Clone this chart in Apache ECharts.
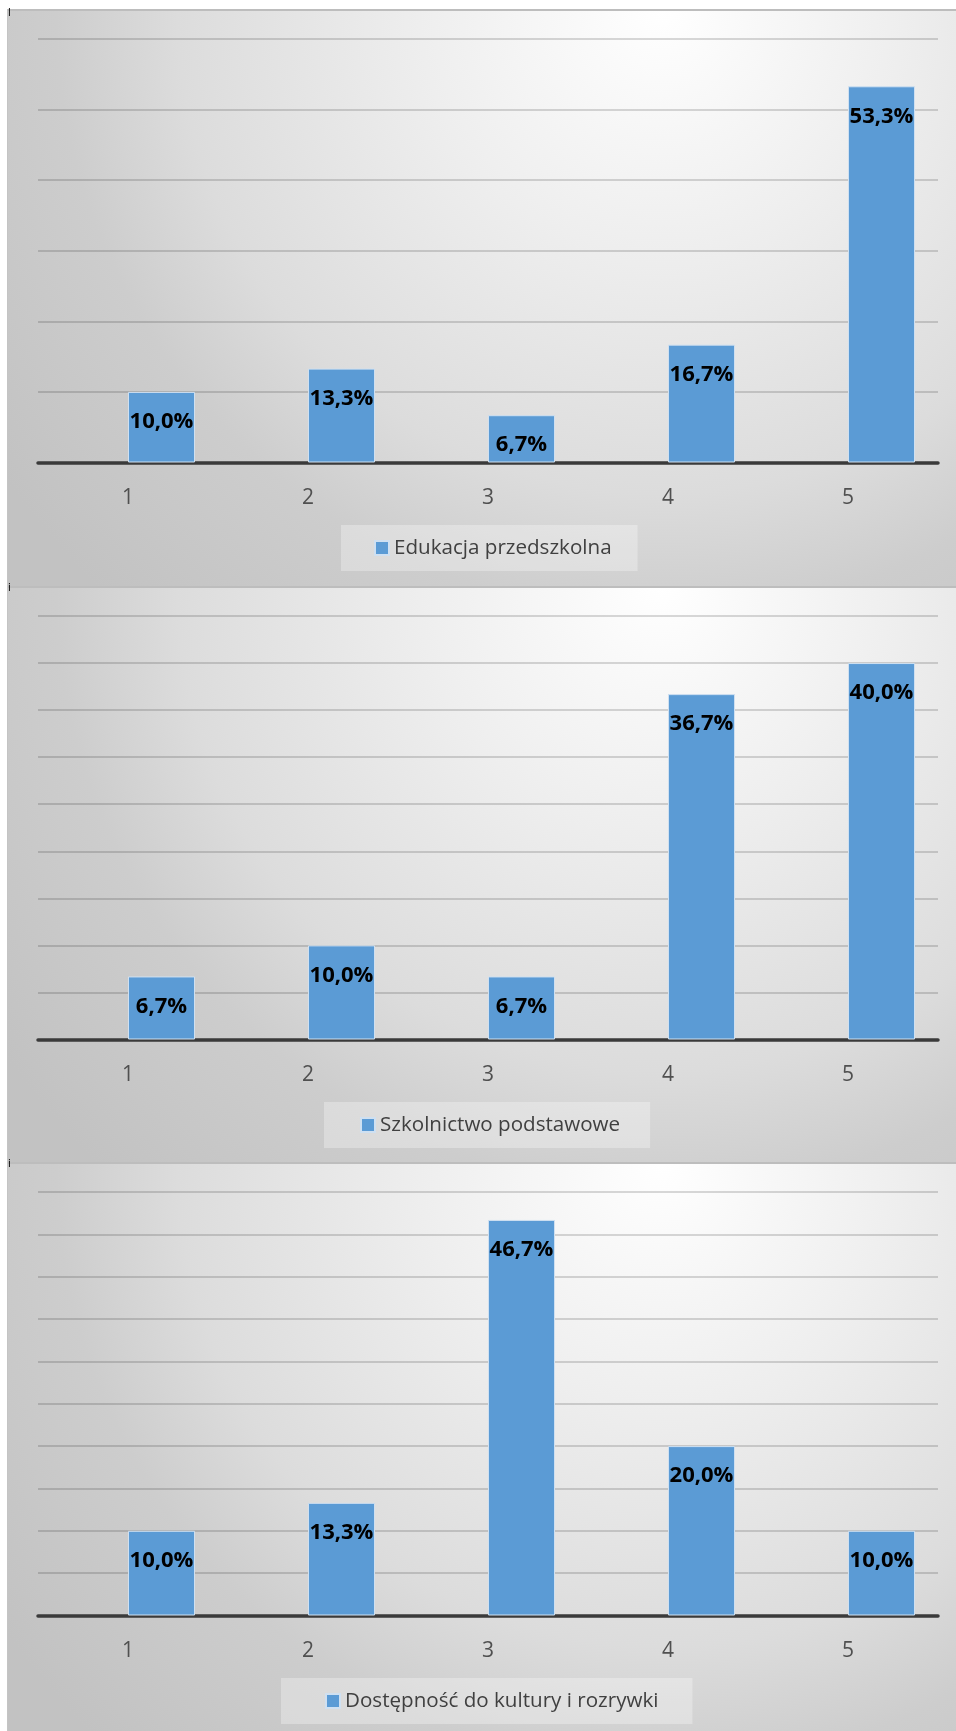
<!DOCTYPE html>
<html>
<head>
<meta charset="utf-8">
<script src="https://cdn.jsdelivr.net/npm/echarts@6/dist/echarts.min.js"></script>
<style>
  html, body { margin: 0; padding: 0; background: #ffffff; overflow: hidden; }
  body { width: 956px; height: 1731px; position: relative; }
  .panel { position: absolute; left: 7px; width: 963px; height: 577px; }
  .mark { position: absolute; left: 8px; font: 10px "DejaVu Sans", sans-serif; color: #000; line-height: 10px; }
</style>
</head>
<body>
<div id="c1" class="panel" style="top:9px"></div>
<div id="c2" class="panel" style="top:586px"></div>
<div id="c3" class="panel" style="top:1162px"></div>
<div class="mark" style="top:8px">l</div>
<div class="mark" style="top:583px">i</div>
<div class="mark" style="top:1159px">i</div>
<script>
const categories = ['1', '2', '3', '4', '5'];
const seriesNames = ['Edukacja przedszkolna', 'Szkolnictwo podstawowe', 'Dostępność do kultury i rozrywki'];
const values1 = [10.0, 13.3, 6.7, 16.7, 53.3];
const values2 = [6.7, 10.0, 6.7, 36.7, 40.0];
const values3 = [10.0, 13.3, 46.7, 20.0, 10.0];
const axisMax = [60, 45, 50];
const axisInterval = [10, 5, 5];

const panelData = [values1, values2, values3];
const ids = ['c1', 'c2', 'c3'];
const legendLeft = [334, 317, 274];
const legendPad = [[12.5, 26, 12.5, 33], [12.5, 30, 12.5, 36], [12.5, 34, 12.5, 44]];

function bg() {
  return {
    type: 'radial', x: 0.68, y: 0.0, r: 1.4,
    colorStops: [
      { offset: 0, color: '#ffffff' },
      { offset: 0.3, color: '#eeeeee' },
      { offset: 0.6, color: '#dcdcdc' },
      { offset: 0.75, color: '#cdcdcd' },
      { offset: 1, color: '#c2c2c2' }
    ]
  };
}

function buildOption(i) {
  const name = seriesNames[i];
  return {
    animation: false,
    backgroundColor: bg(),
    graphic: [
      { type: 'line', shape: { x1: 0, y1: 1, x2: 963, y2: 1 }, style: { stroke: '#bdbdbd', lineWidth: 2 }, z: 10 },
      { type: 'line', shape: { x1: 0.5, y1: 0, x2: 0.5, y2: 577 }, style: { stroke: '#c4c4c4', lineWidth: 1 }, z: 10 }
    ],
    grid: { left: 31, right: 32, top: 30, height: 423.5 },
    legend: {
      data: [name],
      left: legendLeft[i],
      top: 516,
      padding: legendPad[i],
      backgroundColor: 'rgba(255,255,255,0.3)',
      itemWidth: 14,
      itemHeight: 14,
      icon: 'rect',
      textStyle: { fontFamily: 'Open Sans', fontSize: 20.6, color: '#404040', lineHeight: 21 }
    },
    xAxis: {
      type: 'category',
      data: categories,
      axisTick: { show: false },
      axisLine: { lineStyle: { color: '#3a3a3a', width: 3.5 } },
      axisLabel: { fontFamily: 'Open Sans', fontSize: 21, color: '#505050', margin: 25 }
    },
    yAxis: {
      type: 'value',
      min: 0,
      max: axisMax[i],
      interval: axisInterval[i],
      axisLabel: { show: false },
      axisLine: { show: false },
      axisTick: { show: false },
      splitLine: { lineStyle: { color: 'rgba(0,0,0,0.15)', width: 2 } }
    },
    series: [
      {
        name: '_ghost',
        type: 'bar',
        barWidth: 67,
        barGap: '0%',
        data: categories.map(() => null),
        silent: true
      },
      {
        name: name,
        type: 'bar',
        barWidth: 67,
        barGap: '0%',
        data: panelData[i],
        itemStyle: { color: '#5b9bd5', borderColor: '#cfe0f1', borderWidth: 1 },
        label: {
          show: true,
          position: 'insideTop',
          distance: 19,
          fontFamily: 'Open Sans',
          fontWeight: 'bold',
          fontSize: 22,
          color: '#000000',
          formatter: (p) => p.value.toFixed(1).replace('.', ',') + '%'
        }
      }
    ]
  };
}

ids.forEach((id, i) => {
  const chart = echarts.init(document.getElementById(id), null, { renderer: 'canvas' });
  chart.setOption(buildOption(i));
});
</script>
</body>
</html>
